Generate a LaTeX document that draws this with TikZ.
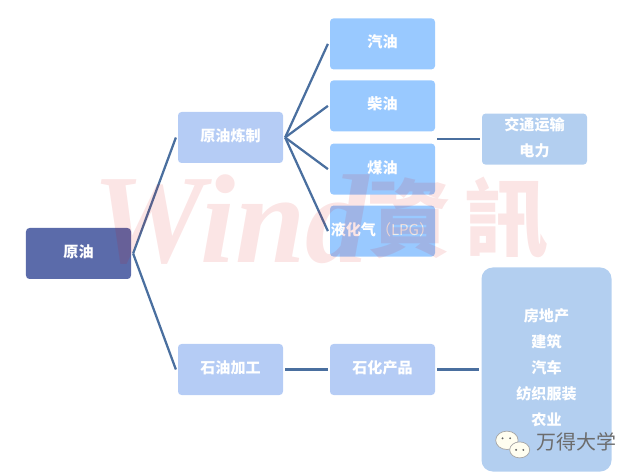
\documentclass[tikz,border=0pt]{standalone}
\usepackage{fontspec}
\setmainfont{Noto Sans CJK SC}
\newfontfamily\markcjk{Noto Sans CJK TC}
\newfontfamily\markserif{Liberation Serif}
\usetikzlibrary{shapes.geometric}
\definecolor{rootblue}{HTML}{5B6BAA}
\definecolor{stepblue}{HTML}{B5CCF5}
\definecolor{fuelblue}{HTML}{99C9FF}
\definecolor{useblue}{HTML}{B3CFF0}
\definecolor{linkblue}{HTML}{4A6F9F}
\tikzset{
	basenode/.style = {minimum width=2.625cm, minimum height=1.275cm, text centered, align=center, text=white, text depth=3.5pt, rounded corners=2.5pt, inner sep=0pt, outer sep=1.5pt, font=\fontsize{10.7}{18.5}\selectfont\bfseries},
	rootbox/.style = {basenode, fill=rootblue},
	stepbox/.style = {basenode, fill=stepblue},
	fuelbox/.style = {basenode, fill=fuelblue},
	usebox/.style = {basenode, fill=useblue},
	link/.style = {draw=linkblue, line width=1.6pt},
	markword/.style = {text=red!85!black, opacity=0.1, text opacity=0.1, inner sep=0pt},
	bubble/.style = {ellipse, draw=gray!70, fill=yellow!6, line width=0.5pt, inner sep=0pt},
	eye/.style = {circle, fill=gray!80!black, minimum size=1.5pt, inner sep=0pt}
}

\begin{document}
\begin{tikzpicture}[node distance=3.8cm]
		\useasboundingbox (-1.9625,-5.5625) rectangle (14.0375,6.3375);
		%定义各个方框
		\node (root) [rootbox] {原油};
		\node (refine) [stepbox, right of=root, yshift=2.9cm] {原油炼制};
		\node (process) [stepbox, right of=root, yshift=-2.9cm] {石油加工};
		\node (gasoline) [fuelbox, right of=refine, yshift=2.34cm] {汽油};
		\node (diesel) [fuelbox, right of=refine, yshift=0.79cm] {柴油};
		\node (kerosene) [fuelbox, right of=refine, yshift=-0.79cm] {煤油};
		\node (lpg) [fuelbox, right of=refine, yshift=-2.34cm] {液化气\mdseries\color{white!85!gray}（LPG）};
		\node (chem) [fuelbox, right of=process, fill=stepblue] {石化产品};
		\node (traffic) [usebox, right of=kerosene, yshift=0.75cm] {交通运输\\电力};
		\node (industry) [usebox, right of=chem, xshift=0.3cm, minimum width=3.25cm, minimum height=5.1cm, rounded corners=8pt] {房地产\\建筑\\汽车\\纺织服装\\农业};
		\coordinate (fuelout) at (kerosene.east |- traffic.west);

		%连接各个方框
		\path [link] (root.east) -- (refine.west);
		\path [link] (root.east) -- (process.west);
		\path [link] (refine.east) -- (gasoline.west);
		\path [link] (refine.east) -- (diesel.west);
		\path [link] (refine.east) -- (kerosene.west);
		\path [link] (refine.east) -- (lpg.west);
		\path [link] (fuelout) -- (traffic.west);
		\path [link] (process.east) -- (chem.west);
		\path [link] (chem.east) -- (industry.west);

		%水印
		\node (wind) [markword, font=\fontsize{90}{90}\markserif\bfseries\itshape, right of=root, yshift=0.85cm] {Wind};
		\node (zi) [markword, font=\fontsize{60}{60}\markcjk\bfseries, right of=lpg, node distance=0.68cm, yshift=0.33cm] {資};
		\node (xun) [markword, font=\fontsize{60}{60}\markcjk\bfseries, right of=zi, node distance=2.42cm] {訊};

		%微信标记
		\node (wechat) [font=\fontsize{14.2}{14.2}\selectfont, text=gray!85!black, below of=industry, node distance=1.82cm, xshift=0.75cm] {万得大学};
		\node (bigbubble) [bubble, minimum width=0.56cm, minimum height=0.46cm, left of=wechat, node distance=1.74cm, yshift=0.05cm] {};
		\node (smallbubble) [bubble, minimum width=0.5cm, minimum height=0.4cm, left of=wechat, node distance=1.42cm, yshift=-0.19cm] {};
		\node (eyea) [eye, left of=bigbubble, node distance=0.11cm, yshift=0.05cm] {};
		\node (eyeb) [eye, right of=bigbubble, node distance=0.08cm, yshift=0.05cm] {};
		\node (eyec) [eye, left of=smallbubble, node distance=0.09cm] {};
		\node (eyed) [eye, right of=smallbubble, node distance=0.09cm] {};
		\end{tikzpicture}
\end{document}
